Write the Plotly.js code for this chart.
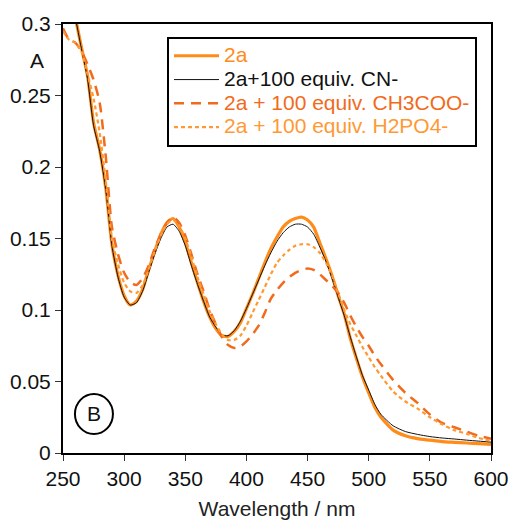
<!DOCTYPE html>
<html>
<head>
<meta charset="utf-8">
<script src="https://cdn.plot.ly/plotly-3.0.1.min.js"></script>
<style>html,body{margin:0;padding:0;background:#fff;}#chart{width:511px;height:521px;}</style>
</head>
<body>
<div id="chart"></div>
<script>
const wavelength = [250,255,260,265,270,275,280,285,290,295,300,305,310,315,320,325,330,335,340,345,350,355,360,365,370,375,380,385,390,395,400,405,410,415,420,425,430,435,440,445,450,455,460,465,470,475,480,485,490,495,500,505,510,520,530,540,550,560,570,580,590,600];

const abs2a = [0.345,0.325,0.305,0.284,0.264,0.231,0.212,0.185,0.146,0.124,0.110,0.1035,0.106,0.114,0.128,0.141,0.153,0.161,0.164,0.158,0.147,0.133,0.119,0.106,0.095,0.087,0.082,0.0815,0.085,0.091,0.101,0.111,0.122,0.133,0.143,0.151,0.158,0.162,0.164,0.165,0.163,0.158,0.147,0.136,0.124,0.110,0.097,0.080,0.066,0.053,0.042,0.032,0.025,0.016,0.012,0.010,0.009,0.008,0.0075,0.007,0.0065,0.006];

const absCN = [0.345,0.325,0.305,0.283,0.262,0.229,0.211,0.184,0.145,0.123,0.109,0.1035,0.105,0.113,0.126,0.139,0.150,0.158,0.160,0.155,0.145,0.131,0.118,0.106,0.095,0.088,0.0825,0.082,0.0855,0.092,0.101,0.111,0.121,0.131,0.140,0.148,0.154,0.158,0.160,0.160,0.158,0.153,0.144,0.134,0.122,0.109,0.096,0.081,0.067,0.054,0.044,0.034,0.027,0.019,0.015,0.013,0.0115,0.0105,0.0098,0.009,0.0083,0.0076];

const absAcO = [0.297,0.289,0.287,0.281,0.272,0.261,0.245,0.207,0.158,0.139,0.126,0.1195,0.1175,0.122,0.131,0.143,0.153,0.161,0.165,0.161,0.152,0.139,0.125,0.113,0.100,0.090,0.081,0.0755,0.0735,0.0745,0.078,0.083,0.089,0.098,0.108,0.114,0.119,0.123,0.126,0.128,0.129,0.128,0.125,0.121,0.117,0.112,0.105,0.096,0.088,0.081,0.075,0.068,0.062,0.051,0.042,0.035,0.027,0.021,0.018,0.015,0.012,0.010];

const absH2PO4 = [0.295,0.289,0.287,0.281,0.265,0.248,0.224,0.190,0.150,0.132,0.119,0.113,0.112,0.117,0.128,0.141,0.152,0.160,0.163,0.159,0.150,0.137,0.123,0.111,0.099,0.090,0.083,0.079,0.079,0.082,0.089,0.098,0.107,0.116,0.125,0.133,0.138,0.142,0.145,0.146,0.146,0.144,0.140,0.133,0.124,0.112,0.100,0.090,0.082,0.074,0.067,0.060,0.054,0.043,0.036,0.031,0.025,0.020,0.016,0.0135,0.0105,0.0085];

const seriesNames = ['2a','2a+100 equiv. CN-','2a + 100 equiv. CH3COO-','2a + 100 equiv. H2PO4-'];
const xTicks = [250,300,350,400,450,500,550,600];
const yTicks = [0,0.05,0.1,0.15,0.2,0.25,0.3];
const yTickText = ['0','0.05','0.1','0.15','0.2','0.25','0.3'];

const cSolid = '#ff8c1a', cDash = '#f26a1b', cDot = '#ff9933';
const F = '"Liberation Sans", Arial, sans-serif';
function lbl(t, c) { return '<span style="font-size:21px;color:' + c + '">' + t + '</span>'; }

const traces = [
  {x: wavelength, y: abs2a, name: lbl(seriesNames[0], cSolid), mode:'lines', line:{color:cSolid, width:3.2, shape:'spline', smoothing:0.6}},
  {x: wavelength, y: absCN, name: lbl(seriesNames[1], '#111111'), mode:'lines', line:{color:'#111111', width:1, shape:'spline', smoothing:0.6}},
  {x: wavelength, y: absAcO, name: lbl(seriesNames[2], cDash), mode:'lines', line:{color:cDash, width:2.5, dash:'10px,7px', shape:'spline', smoothing:0.6}},
  {x: wavelength, y: absH2PO4, name: lbl(seriesNames[3], cDot), mode:'lines', line:{color:cDot, width:2.2, dash:'4px,3px', shape:'spline', smoothing:0.6}}
];

const layout = {
  width: 511, height: 521,
  margin: {l:63, r:20, t:24, b:68},
  paper_bgcolor:'#fff', plot_bgcolor:'#fff',
  font: {family: F, size: 21, color:'#111'},
  showlegend: true,
  legend: {x:0.243, y:0.97, xanchor:'left', yanchor:'top', bordercolor:'#000', borderwidth:2, bgcolor:'#fff', font:{family:F, size:16, color:'#111'}, itemwidth:45, tracegroupgap:0},
  xaxis: {range:[250,600], tickvals:xTicks, ticks:'outside', ticklen:6, tickwidth:1, tickcolor:'#333', showline:true, linecolor:'#000', linewidth:2, mirror:true, showgrid:false, zeroline:false,
          tickfont:{family:F, size:21, color:'#111'},
          title:{text:'Wavelength / nm', font:{family:F, size:21, color:'#222'}, standoff:12}},
  yaxis: {range:[0,0.3], tickvals:yTicks, ticktext:yTickText, ticks:'outside', ticklen:6, tickwidth:1, tickcolor:'#333', showline:true, linecolor:'#000', linewidth:2, mirror:true, showgrid:false, zeroline:false,
          tickfont:{family:F, size:21, color:'#111'}},
  annotations: [
    {text:'A', xref:'paper', yref:'paper', x:-0.061, y:0.915, showarrow:false, xanchor:'center', yanchor:'middle', font:{family:F, size:21, color:'#111'}},
    {text:'B', xref:'x', yref:'y', x:275.3, y:0.0273, showarrow:false, xanchor:'center', yanchor:'middle', font:{family:F, size:21, color:'#111'}}
  ],
  shapes: [
    {type:'circle', xref:'x', yref:'y', xsizemode:'pixel', ysizemode:'pixel', xanchor:275.3, yanchor:0.0273, x0:-19, x1:19, y0:-20, y1:20, line:{color:'#000', width:2}}
  ]
};

Plotly.newPlot('chart', traces, layout, {displayModeBar:false, staticPlot:true});
</script>
</body>
</html>
